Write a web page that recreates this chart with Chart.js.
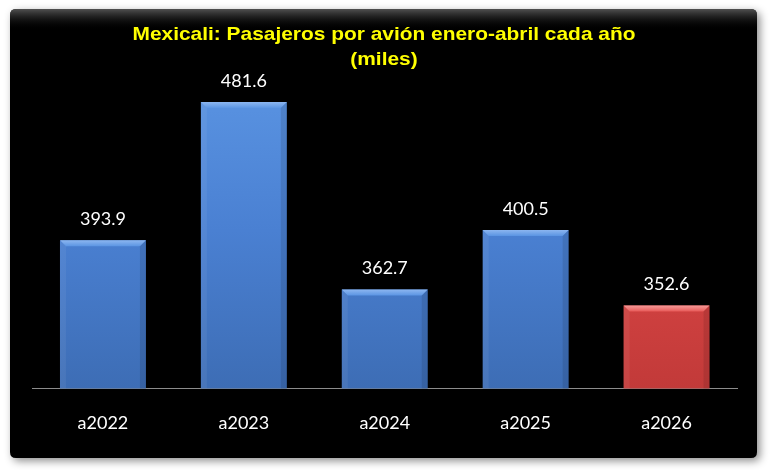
<!DOCTYPE html>
<html>
<head>
<meta charset="utf-8">
<script src="https://cdn.jsdelivr.net/npm/chart.js@4.4.1/dist/chart.umd.min.js"></script>
<style>
html,body{margin:0;padding:0;background:#fff;}
#wrap{width:770px;height:470px;position:relative;}
</style>
</head>
<body>
<div id="wrap"><canvas id="c" width="770" height="470"></canvas></div>
<script>
const categories = ["a2022", "a2023", "a2024", "a2025", "a2026"];
const values = [393.9, 481.6, 362.7, 400.5, 352.6];
const titleLines = ["Mexicali: Pasajeros por avión enero-abril cada año", "(miles)"];
const yMin = 300;
const yMax = 500;

const blue = {top:"#5b95e3", mid:"#4a80d2", bot:"#3d6db5", bevel:"#8cb6f0"};
const red = {top:"#e85a58", mid:"#d94645", bot:"#c23a39", bevel:"#f49a98"};
function pal(i){ return i === values.length - 1 ? red : blue; }

function roundRect(ctx, x, y, w, h, r){
  ctx.beginPath();
  ctx.moveTo(x+r, y);
  ctx.lineTo(x+w-r, y);
  ctx.quadraticCurveTo(x+w, y, x+w, y+r);
  ctx.lineTo(x+w, y+h-r);
  ctx.quadraticCurveTo(x+w, y+h, x+w-r, y+h);
  ctx.lineTo(x+r, y+h);
  ctx.quadraticCurveTo(x, y+h, x, y+h-r);
  ctx.lineTo(x, y+r);
  ctx.quadraticCurveTo(x, y, x+r, y);
  ctx.closePath();
}

const panelPlugin = {
  id: 'panel',
  beforeDraw(chart){
    const ctx = chart.ctx;
    ctx.save();
    ctx.fillStyle = '#fff';
    ctx.fillRect(0,0,chart.width,chart.height);
    ctx.shadowColor = 'rgba(0,0,0,0.45)';
    ctx.shadowBlur = 8;
    ctx.shadowOffsetX = 3;
    ctx.shadowOffsetY = 3;
    roundRect(ctx, 10, 9, 747, 449, 6);
    ctx.fillStyle = '#000';
    ctx.fill();
    ctx.restore();
    ctx.save();
    const g = ctx.createLinearGradient(0, 9, 0, 30);
    g.addColorStop(0, 'rgba(90,90,90,0.9)');
    g.addColorStop(1, 'rgba(0,0,0,0)');
    roundRect(ctx, 10, 9, 747, 22, 6);
    ctx.fillStyle = g;
    ctx.fill();
    ctx.restore();
  },
  afterDraw(chart){
    const ctx = chart.ctx;
    ctx.save();
    ctx.fillStyle = '#ffff00';
    ctx.font = 'bold 19px "Liberation Sans", Arial, sans-serif';
    ctx.textAlign = 'center';
    ctx.textBaseline = 'middle';
    ctx.translate(384, 0);
    ctx.scale(1.1, 1);
    ctx.fillText(titleLines[0], 0, 35);
    ctx.fillText(titleLines[1], 0, 60);
    ctx.restore();
  }
};

const barDeco = {
  id: 'barDeco',
  afterDatasetsDraw(chart){
    const ctx = chart.ctx;
    const meta = chart.getDatasetMeta(0);
    const bottom = chart.chartArea.bottom;
    ctx.save();
    meta.data.forEach((bar, i) => {
      const p = pal(i);
      const x0 = bar.x - bar.width/2, x1 = bar.x + bar.width/2;
      const y0 = bar.y, y1 = bottom;
      const b = 6;
      ctx.beginPath();
      ctx.moveTo(x0, y0); ctx.lineTo(x1, y0); ctx.lineTo(x1-b, y0+b); ctx.lineTo(x0+b, y0+b); ctx.closePath();
      const tg = ctx.createLinearGradient(0, y0, 0, y0+b);
      tg.addColorStop(0, p.bevel);
      tg.addColorStop(1, p.top);
      ctx.fillStyle = tg; ctx.fill();
      ctx.beginPath();
      ctx.moveTo(x0, y0); ctx.lineTo(x0+b, y0+b); ctx.lineTo(x0+b, y1); ctx.lineTo(x0, y1); ctx.closePath();
      ctx.fillStyle = 'rgba(255,255,255,0.06)'; ctx.fill();
      ctx.beginPath();
      ctx.moveTo(x1, y0); ctx.lineTo(x1-b, y0+b); ctx.lineTo(x1-b, y1); ctx.lineTo(x1, y1); ctx.closePath();
      ctx.fillStyle = 'rgba(0,0,0,0.10)'; ctx.fill();
      ctx.fillStyle = '#ffffff';
      ctx.font = '18px Lato, "Open Sans", sans-serif';
      ctx.textAlign = 'center';
      ctx.textBaseline = 'middle';
      ctx.fillText(values[i].toFixed(1), bar.x, y0 - 21);
    });
    ctx.restore();
  }
};

new Chart(document.getElementById('c'), {
  type: 'bar',
  data: {
    labels: categories,
    datasets: [{
      data: values,
      backgroundColor: (ctx) => {
        const chart = ctx.chart;
        const ca = chart.chartArea;
        const p = pal(ctx.dataIndex);
        if (!ca) return p.mid;
        const g = chart.ctx.createLinearGradient(0, ca.top, 0, ca.bottom);
        g.addColorStop(0, p.top);
        g.addColorStop(0.5, p.mid);
        g.addColorStop(1, p.bot);
        return g;
      },
      borderWidth: 0,
      categoryPercentage: 1.0,
      barPercentage: 0.61
    }]
  },
  options: {
    responsive: false,
    animation: false,
    devicePixelRatio: 1,
    layout: { padding: { left: 32.5, right: 33, top: 73, bottom: 12 } },
    plugins: { legend: { display: false }, title: { display: false }, tooltip: { enabled: false } },
    scales: {
      y: { display: false, min: yMin, max: yMax },
      x: {
        grid: { display: false, drawTicks: false },
        border: { display: true, color: '#8c8c8c', width: 1 },
        ticks: { color: '#ffffff', font: { family: 'Lato, "Open Sans", sans-serif', size: 18 }, padding: 24 }
      }
    }
  },
  plugins: [panelPlugin, barDeco]
});
</script>
</body>
</html>
